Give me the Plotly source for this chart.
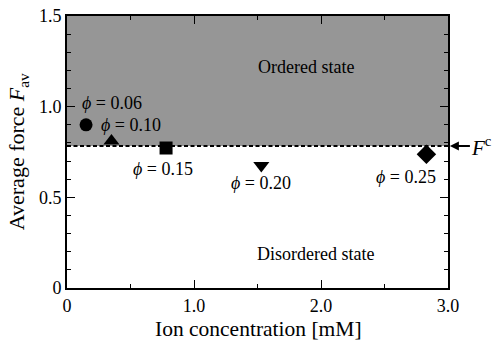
import plotly.graph_objects as go

# Data
ion_conc = [0.15, 0.35, 0.78, 1.53, 2.83]
avg_force = [0.90, 0.81, 0.772, 0.675, 0.737]
symbols = ["circle", "triangle-up", "square", "triangle-down", "diamond"]
sizes = [13, 14, 13, 14, 15]
phi_labels = ["0.06", "0.10", "0.15", "0.20", "0.25"]
label_x = [0.354, 0.504, 0.757, 1.53, 2.67]
label_y = [1.022, 0.899, 0.656, 0.579, 0.612]
F_c = 0.783
x_range = [0, 3.0]
y_range = [0, 1.5]
x_ticks = [0, 1.0, 2.0, 3.0]
x_ticktext = ["0", "1.0", "2.0", "3.0"]
y_ticks = [0, 0.5, 1.0, 1.5]
y_ticktext = ["0", "0.5", "1.0", "1.5"]
x_title = "Ion concentration [mM]"
y_title = "Average force <i>F</i><sub>av</sub>"

FONT = "Liberation Serif, Times New Roman, serif"

fig = go.Figure()

for xv, yv, sym, sz in zip(ion_conc, avg_force, symbols, sizes):
    fig.add_trace(go.Scatter(x=[xv], y=[yv], mode="markers",
                             marker=dict(symbol=sym, size=sz, color="black",
                                         line=dict(width=0)),
                             showlegend=False, cliponaxis=False))

# ordered-state region
fig.add_shape(type="rect", xref="x", yref="y", x0=x_range[0], x1=x_range[1],
              y0=F_c, y1=y_range[1], fillcolor="#969696", line=dict(width=0),
              layer="below")
fig.add_shape(type="line", xref="x", yref="y", x0=x_range[0], x1=x_range[1],
              y0=F_c, y1=F_c, line=dict(color="black", width=2.2, dash="4px,2.5px"))

for lx, ly, lab in zip(label_x, label_y, phi_labels):
    fig.add_annotation(x=lx, y=ly, xref="x", yref="y", showarrow=False,
                       text="<i>ϕ</i> = " + lab, font=dict(size=18, color="black", family=FONT))

fig.add_annotation(x=1.878, y=1.22, xref="x", yref="y", showarrow=False,
                   text="Ordered state", font=dict(size=18, color="black", family=FONT))
fig.add_annotation(x=1.96, y=0.188, xref="x", yref="y", showarrow=False,
                   text="Disordered state", font=dict(size=18, color="black", family=FONT))

fig.add_annotation(x=1.005, y=F_c, xref="paper", yref="y", showarrow=True,
                   ax=32, ay=0, arrowhead=2, arrowsize=1, arrowwidth=1.8,
                   arrowcolor="black", xanchor="center",
                   text="<i>F</i><sup>c</sup>", font=dict(size=21, color="black", family=FONT))

# axis titles
fig.add_annotation(x=0.503, y=-0.152, xref="paper", yref="paper", showarrow=False,
                   xanchor="center", yanchor="middle",
                   text=x_title, font=dict(size=21.5, color="black", family=FONT))
fig.add_annotation(x=-0.128, y=0.5, xref="paper", yref="paper", showarrow=False,
                   xanchor="center", yanchor="middle", textangle=-90,
                   text=y_title, font=dict(size=22, color="black", family=FONT))

axis_common = dict(showline=True, linecolor="black", linewidth=1.6, mirror="ticks",
                   ticks="inside", ticklen=8, tickwidth=1.2, tickcolor="black",
                   showgrid=False, zeroline=False, automargin=False,
                   tickfont=dict(size=18, color="black", family=FONT))

fig.update_xaxes(range=x_range, tickvals=x_ticks, ticktext=x_ticktext,
                 ticklabelstandoff=1,
                 minor=dict(dtick=0.5, tick0=0, ticks="inside", ticklen=4, tickcolor="black", tickwidth=1.2),
                 **axis_common)
fig.update_yaxes(range=y_range, tickvals=y_ticks, ticktext=y_ticktext,
                 minor=dict(dtick=0.1, tick0=0, ticks="inside", ticklen=4, tickcolor="black", tickwidth=1.2),
                 **axis_common)

fig.update_layout(width=496, height=341, margin=dict(l=67, r=48, t=16, b=53),
                  plot_bgcolor="white", paper_bgcolor="white",
                  font=dict(family=FONT, color="black"))

fig.write_html("out.html")
